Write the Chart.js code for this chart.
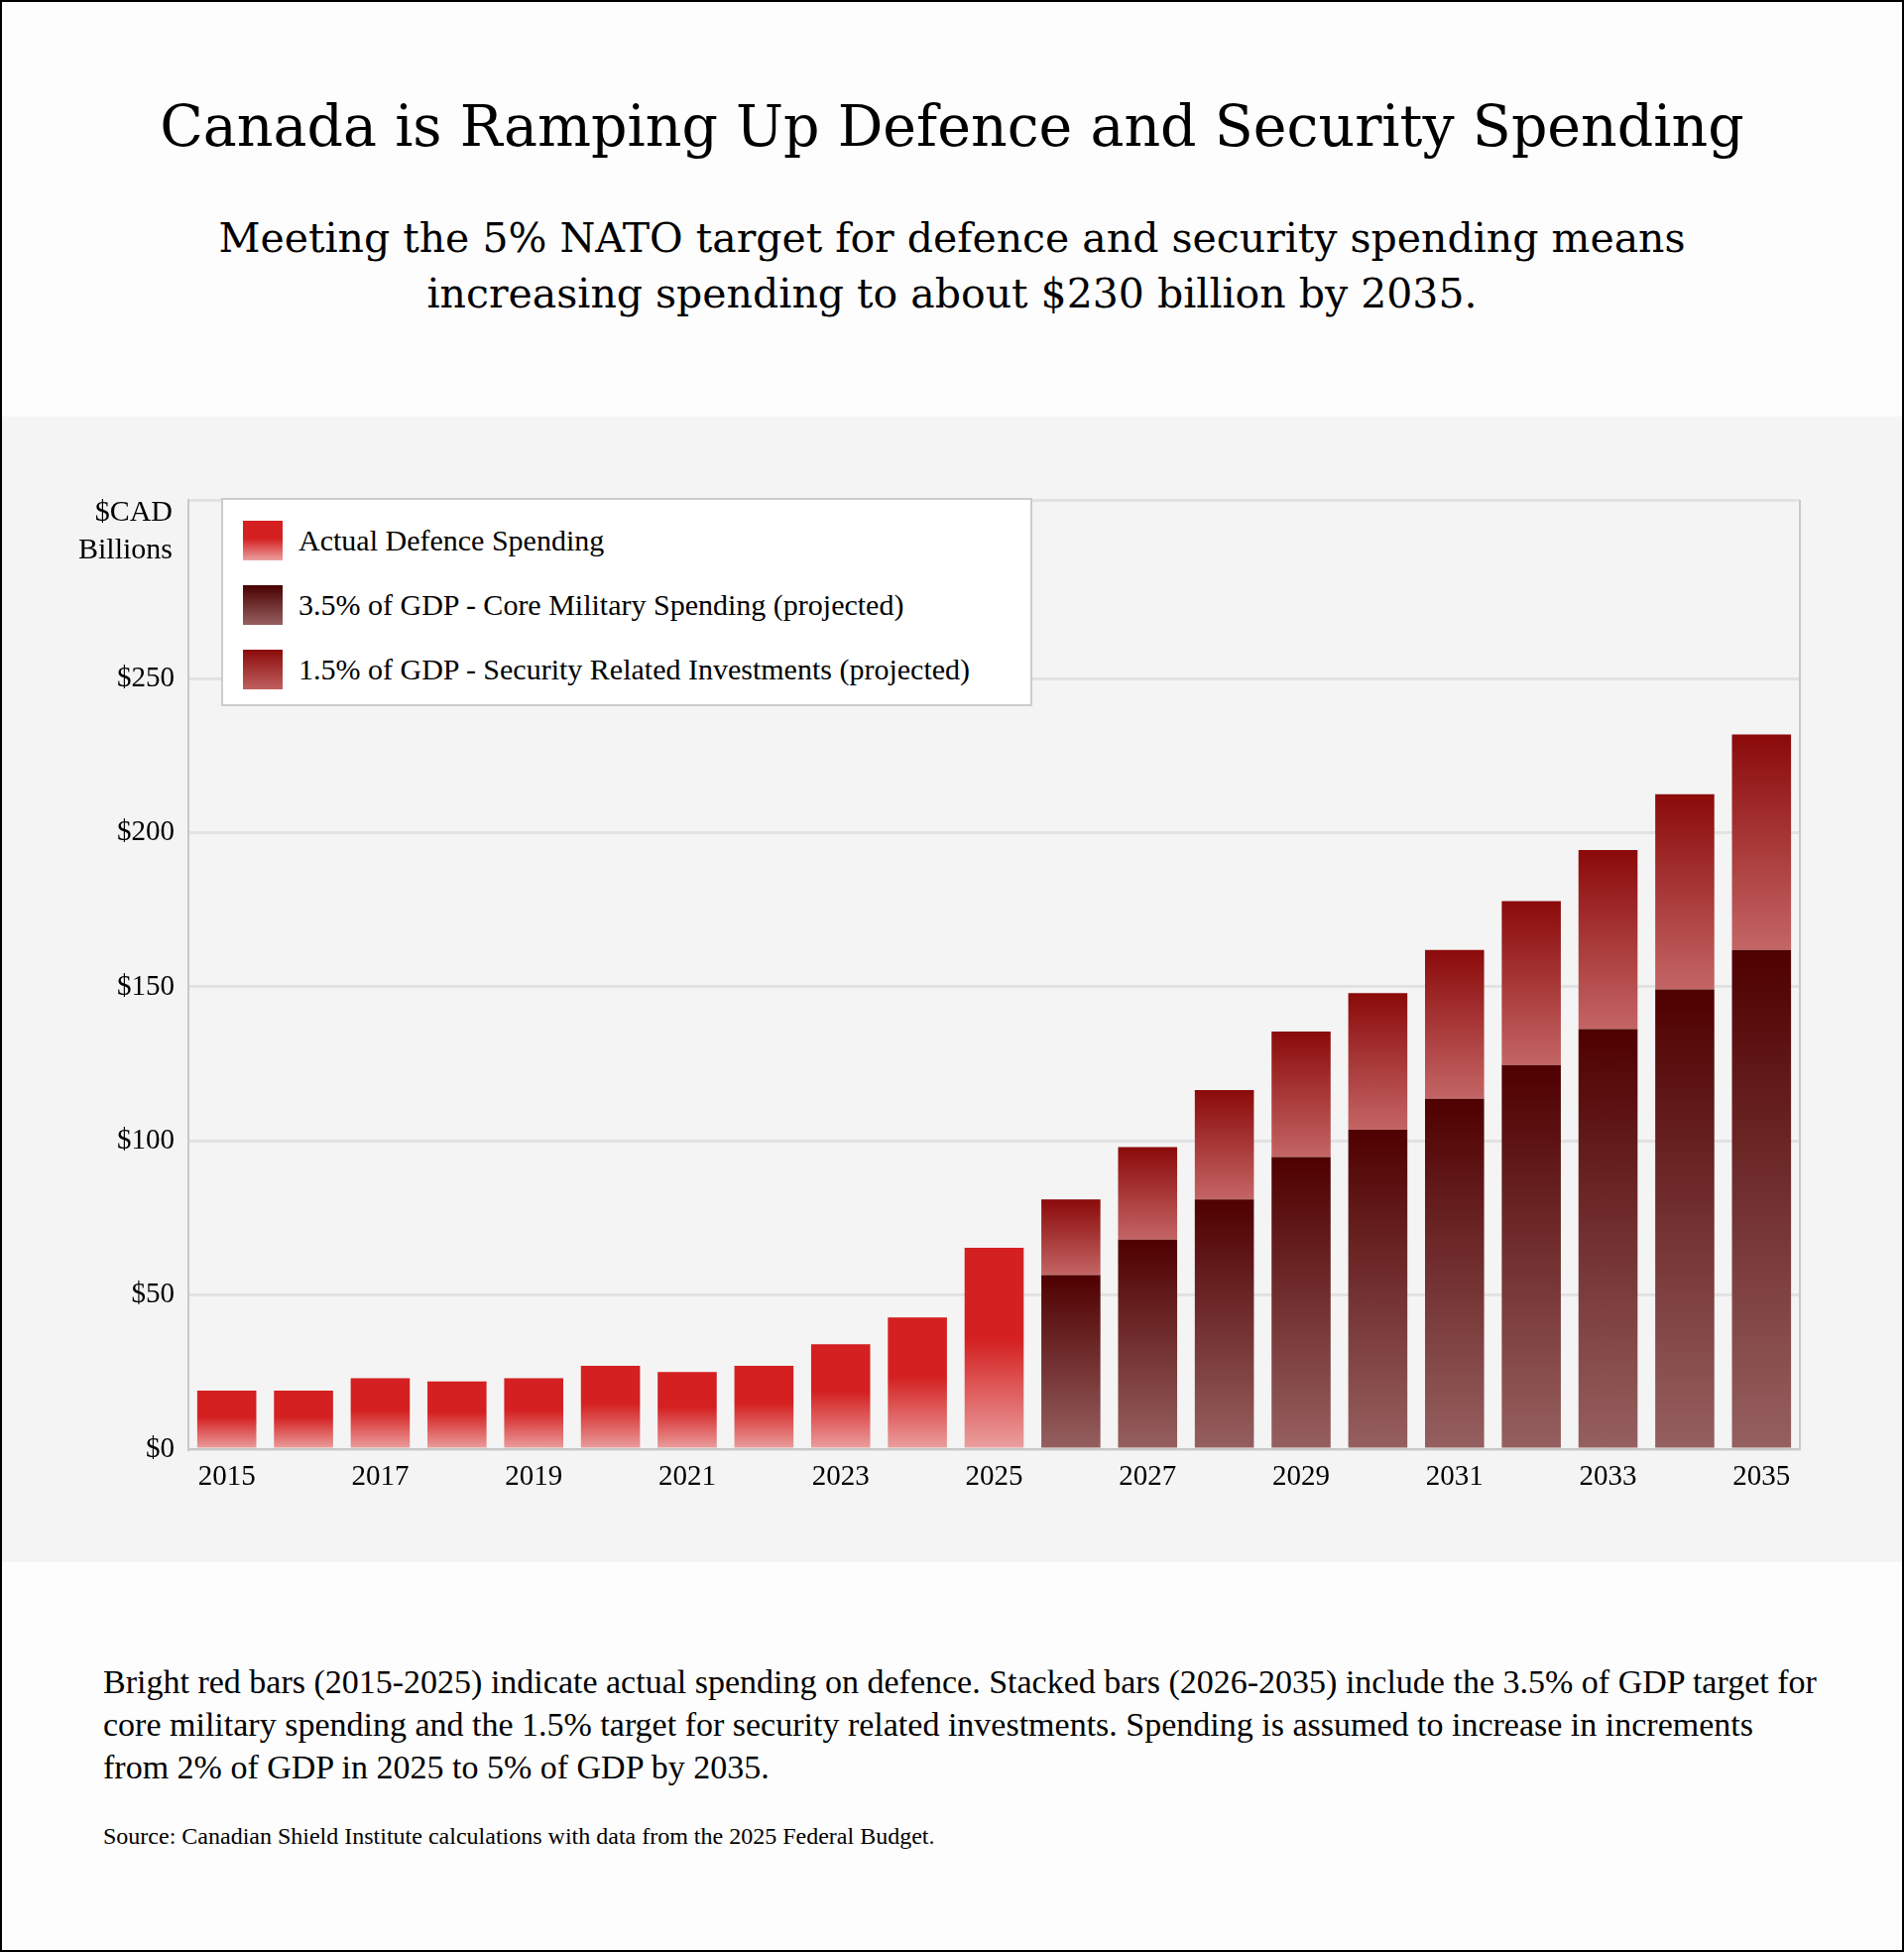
<!DOCTYPE html>
<html><head><meta charset="utf-8">
<script src="https://cdn.jsdelivr.net/npm/chart.js@4"></script>
<style>
body{margin:0;background:#fff;}
#page{position:relative;width:1916px;height:1964px;border:2px solid #000;background:#fdfdfd;font-family:"Liberation Serif",serif;color:#000;overflow:hidden}
#title{position:absolute;top:92px;left:0;width:100%;text-align:center;font-family:"DejaVu Serif","Liberation Serif",serif;font-size:57px}
#sub{position:absolute;top:210px;left:0;width:100%;text-align:center;line-height:56px;font-family:"DejaVu Serif",serif;font-size:41px}
#panel{position:absolute;top:418px;left:0;width:100%;height:1155px;background:#f4f4f4}
#cw{position:absolute;left:0;top:0;width:1916px;height:1155px}
#ytitle{position:absolute;left:50px;top:76px;width:122px;text-align:right;font-size:30px;line-height:38px}
#legend{position:absolute;left:221px;top:82px;width:818px;height:210px;border:2px solid #ccc;background:#fff;box-sizing:border-box;padding-top:8px}
.li{display:flex;align-items:center;height:65px;font-size:30px;padding-left:20px}
.sw{width:40px;height:40px;margin-right:16px}
#cap{position:absolute;left:102px;top:1672px;width:1730px;font-size:34px;line-height:43px}
#src{position:absolute;left:102px;top:1836px;font-size:24px}
</style></head><body>
<div id="page">
<div id="title">Canada is Ramping Up Defence and Security Spending</div>
<div id="sub">Meeting the 5% NATO target for defence and security spending means<br>increasing spending to about $230 billion by 2035.</div>
<div id="panel">
<div id="cw"><canvas id="c"></canvas></div>
<div id="ytitle">$CAD<br>Billions</div>
<div id="legend">
<div class="li"><div class="sw" style="background:linear-gradient(#d42020,#d42020 45%,#eba0a0)"></div>Actual Defence Spending</div>
<div class="li"><div class="sw" style="background:linear-gradient(#4a0000,#966060)"></div>3.5% of GDP - Core Military Spending (projected)</div>
<div class="li"><div class="sw" style="background:linear-gradient(#8b0a0a,#c06060)"></div>1.5% of GDP - Security Related Investments (projected)</div>
</div>
</div>
<div id="cap">Bright red bars (2015-2025) indicate actual spending on defence. Stacked bars (2026-2035) include the 3.5% of GDP target for core military spending and the 1.5% target for security related investments. Spending is assumed to increase in increments from 2% of GDP in 2025 to 5% of GDP by 2035.</div>
<div id="src">Source: Canadian Shield Institute calculations with data from the 2025 Federal Budget.</div>
</div>
<script>
const years=["2015","2016","2017","2018","2019","2020","2021","2022","2023","2024","2025","2026","2027","2028","2029","2030","2031","2032","2033","2034","2035"];
const actual=[19,19,23,22,23,27,25,27,34,42.7,65.3,null,null,null,null,null,null,null,null,null,null];
const core=[null,null,null,null,null,null,null,null,null,null,null,56.5,68,81,94.8,103.6,113.7,124.6,136.3,149.2,162];
const security=[null,null,null,null,null,null,null,null,null,null,null,24.5,30,35.5,40.7,44.4,48.3,53.2,58.1,63.3,69.9];

function grad(stops,baseArr){
  return ctx=>{
    const ch=ctx.chart; const y=ch.scales.y;
    if(!y||ctx.type!=='data'||ctx.raw==null) return stops[0][1];
    const base=baseArr?(baseArr[ctx.dataIndex]||0):0;
    const top=y.getPixelForValue(base+ctx.raw), bot=y.getPixelForValue(base);
    if(!isFinite(top)||!isFinite(bot)||top===bot) return stops[0][1];
    const g=ch.ctx.createLinearGradient(0,top,0,bot);
    stops.forEach(s=>g.addColorStop(s[0],s[1]));
    return g;
  };
}
new Chart(document.getElementById('c'),{
  type:'bar',
  data:{labels:years,datasets:[
    {label:'Actual',data:actual,backgroundColor:grad([[0,'#d42020'],[0.45,'#d42020'],[1,'#eba0a0']]),stack:'s'},
    {label:'Core',data:core,backgroundColor:grad([[0,'#4f0000'],[1,'#966060']]),stack:'s'},
    {label:'Security',data:security,backgroundColor:grad([[0,'#8b0a0a'],[1,'#c46565']],core),stack:'s'}
  ]},
  options:{responsive:true,maintainAspectRatio:false,animation:false,
    layout:{padding:{top:84,right:103,left:0,bottom:0}},
    plugins:{legend:{display:false},tooltip:{enabled:false}},
    datasets:{bar:{categoryPercentage:1,barPercentage:0.77}},
    scales:{
      x:{stacked:true,grid:{display:false,drawTicks:true},border:{color:'#c8c8c8',width:2},
        ticks:{color:'#000',font:{family:'Liberation Serif',size:29},maxRotation:0,autoSkip:false,
          callback:(v,i)=>i%2===0?years[i]:''},
        afterFit:s=>{s.height=114;}},
      y:{stacked:true,min:0,max:308,grid:{color:'#e2e2e2',lineWidth:3,drawTicks:false},border:{color:'#c8c8c8',width:2},
        ticks:{stepSize:50,color:'#000',padding:14,font:{family:'Liberation Serif',size:29},
          callback:v=>v<=250?'$'+v:''},
        afterFit:s=>{s.width=188;}}
    }
  },
  plugins:[{id:'rb',afterDraw(ch){const a=ch.chartArea,c=ch.ctx;c.save();c.strokeStyle='#c8c8c8';c.lineWidth=2;c.beginPath();c.moveTo(a.right,a.top);c.lineTo(a.right,a.bottom);c.stroke();c.restore();}}]
});
</script>
</body></html>
